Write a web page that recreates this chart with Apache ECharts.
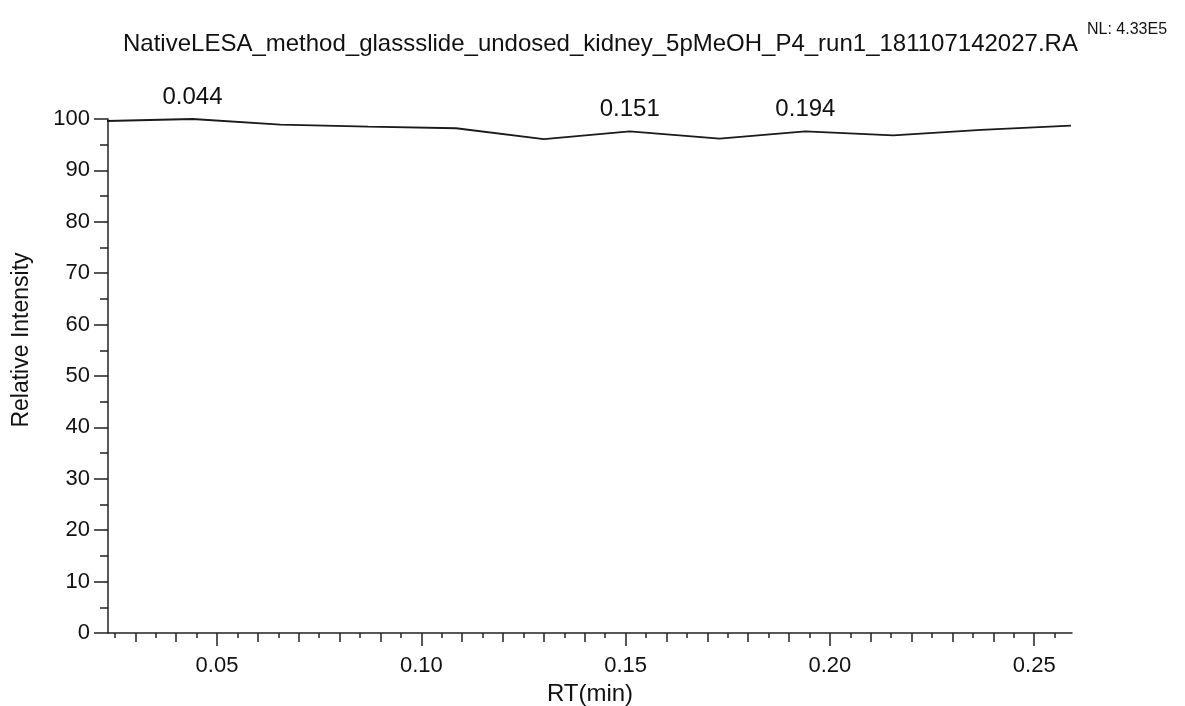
<!DOCTYPE html>
<html>
<head>
<meta charset="utf-8">
<script src="https://cdn.jsdelivr.net/npm/echarts@6/dist/echarts.min.js"></script>
<style>
	html, body { margin: 0; padding: 0; background: #fff; }
	#chart { width: 1185px; height: 706px; }
</style>
</head>
<body>
<div id="chart"></div>
<script>
//数据
var rtValues = [0.0226, 0.044, 0.0655, 0.087, 0.1085, 0.130, 0.151, 0.173, 0.194, 0.2155, 0.237, 0.259]; //保留时间
var intensity = [99.6, 100, 98.9, 98.5, 98.2, 96.1, 97.6, 96.2, 97.6, 96.8, 97.9, 98.7]; //相对强度
var peakRT = [0.044, 0.151, 0.194]; //标注峰
var xMajor = [0.05, 0.10, 0.15, 0.20, 0.25]; //主刻度
var xMedium = [0.03, 0.04, 0.06, 0.07, 0.08, 0.09, 0.11, 0.12, 0.13, 0.14, 0.16, 0.17, 0.18, 0.19, 0.21, 0.22, 0.23, 0.24];
var xSmall = [0.025, 0.035, 0.045, 0.055, 0.065, 0.075, 0.085, 0.095, 0.105, 0.115, 0.125, 0.135, 0.145, 0.155, 0.165, 0.175, 0.185, 0.195, 0.205, 0.215, 0.225, 0.235, 0.245, 0.255];
var titleText = 'NativeLESA_method_glassslide_undosed_kidney_5pMeOH_P4_run1_181107142027.RA';
var nlText = 'NL: 4.33E5';
var yName = 'Relative Intensity';

var FONT = 'Liberation Sans, Arial, sans-serif';
var xMin = 0.02332, xMax = 0.25925;

(function() {
	var data = [];
	for (var i = 0; i < rtValues.length; i++) {
		var item = { value: [rtValues[i], intensity[i]] };
		if (peakRT.indexOf(rtValues[i]) >= 0) {
			item.label = {
				show: true,
				position: 'top',
				distance: 9,
				formatter: rtValues[i].toFixed(3),
				fontFamily: FONT,
				fontSize: 24,
				color: '#111'
			};
		}
		data.push(item);
	}

	//底部刻度轴（主/中/小）
	function tickAxis(values, len, showLabel) {
		return {
			type: 'value',
			position: 'bottom',
			min: xMin,
			max: xMax,
			axisLine: { show: showLabel, lineStyle: { color: '#222', width: 1.5 } },
			axisTick: { show: true, length: len, customValues: values, lineStyle: { color: '#222', width: 1.5 } },
			axisLabel: {
				show: showLabel,
				customValues: values,
				formatter: function(v) { return v.toFixed(2); },
				fontFamily: FONT,
				fontSize: 22,
				color: '#111',
				margin: 22
			},
			splitLine: { show: false }
		};
	}
	var xMain = tickAxis(xMajor, 13, true);
	xMain.name = 'RT(min)';
	xMain.nameLocation = 'middle';
	xMain.nameGap = 42;
	xMain.nameTextStyle = { fontFamily: FONT, fontSize: 24, color: '#111' };

	var chart = echarts.init(document.getElementById('chart'));
	chart.setOption({
		backgroundColor: '#fff',
		animation: false,
		title: {
			text: titleText,
			left: 118,
			top: 27,
			textStyle: { fontFamily: FONT, fontSize: 24, fontWeight: 'normal', color: '#111' }
		},
		graphic: [{
			type: 'text',
			left: 1087,
			top: 22,
			style: { text: nlText, font: '16px ' + FONT, fill: '#111' }
		}, {
			type: 'text',
			x: 22,
			y: 340,
			rotation: Math.PI / 2,
			style: { text: yName, font: '23px ' + FONT, fill: '#111', align: 'center', verticalAlign: 'middle' }
		}],
		grid: { left: 108, right: 113, top: 119, bottom: 73, outerBoundsMode: 'none' },
		xAxis: [xMain, tickAxis(xMedium, 9, false), tickAxis(xSmall, 5, false)],
		yAxis: {
			type: 'value',
			min: 0,
			max: 100,
			interval: 10,
			axisLine: { show: true, lineStyle: { color: '#222', width: 1.5 } },
			axisTick: { show: true, length: 14, lineStyle: { color: '#222', width: 1.5 } },
			minorTick: { show: true, splitNumber: 2, length: 8, lineStyle: { color: '#222', width: 1.5 } },
			axisLabel: { fontFamily: FONT, fontSize: 22, color: '#111', margin: 18 },
			splitLine: { show: false }
		},
		series: [{
			type: 'line',
			xAxisIndex: 0,
			data: data,
			symbol: 'circle',
			symbolSize: 1,
			showSymbol: true,
			itemStyle: { color: 'transparent' },
			clip: true,
			lineStyle: { color: '#1a1a1a', width: 1.8 }
		}]
	});
})();
</script>
</body>
</html>
